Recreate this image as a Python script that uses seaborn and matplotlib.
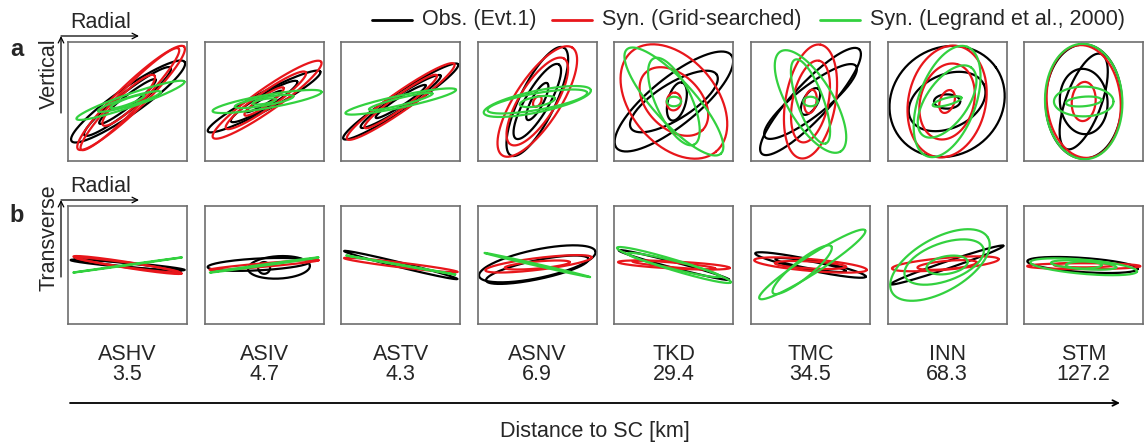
import numpy as np
import pandas as pd
import seaborn as sns
import matplotlib.pyplot as plt

# station names and distance to SC [km]
stations = ["ASHV", "ASIV", "ASTV", "ASNV", "TKD", "TMC", "INN", "STM"]
distances = ["3.5", "4.7", "4.3", "6.9", "29.4", "34.5", "68.3", "127.2"]

series_names = ["Obs. (Evt.1)", "Syn. (Grid-searched)", "Syn. (Legrand et al., 2000)"]
series_colors = ["#000000", "#e8161b", "#33d13f"]

# particle motion loops, normalised to the box half-width
# each loop: (semi-major, semi-minor, tilt deg, x-centre, y-centre)
# a: radial-vertical plane
obs_a = [
    [(1.16, 0.22, 35, 0.01, 0.0), (0.92, 0.15, 38, 0, 0), (0.60, 0.09, 38, 0, 0)],
    [(1.07, 0.15, 28, 0.0, 0.0), (0.65, 0.11, 31, 0, 0), (0.35, 0.05, 30, 0, 0)],
    [(1.15, 0.15, 33, 0, 0), (0.80, 0.11, 33, 0, 0), (0.50, 0.07, 33, 0, 0)],
    [(1.01, 0.30, 64, 0, 0), (0.72, 0.20, 60, 0, 0), (0.35, 0.10, 62, 0, 0)],
    [(1.24, 0.40, 39, 0, 0), (0.85, 0.30, 32, 0, 0), (0.33, 0.15, 75, 0.05, 0)],
    [(1.20, 0.30, 47, 0, 0), (0.97, 0.25, 38, 0, 0), (0.25, 0.12, 60, 0, 0)],
    [(1.00, 0.90, 35, 0, 0), (0.68, 0.45, 25, 0, 0), (0.22, 0.12, 0, 0, 0)],
    [(0.96, 0.64, 90, 0, 0), (0.85, 0.30, 70, 0, 0), (0.55, 0.40, 95, 0, 0)],
]
syn_a = [
    [(1.24, 0.22, 44, 0.06, 0.06), (1.18, 0.18, 46, 0.04, 0.04), (0.60, 0.14, 44, 0.02, 0.02)],
    [(1.11, 0.19, 35, 0.05, 0.03), (0.82, 0.14, 35, 0.03, 0.02), (0.40, 0.08, 35, 0, 0)],
    [(1.10, 0.16, 35, 0, 0), (0.75, 0.11, 36, 0, 0)],
    [(1.08, 0.38, 57, 0, 0), (0.85, 0.30, 58, 0, 0), (0.10, 0.06, 60, 0, 0)],
    [(1.10, 0.72, -50, 0, 0), (0.68, 0.45, -45, 0, 0), (0.15, 0.12, 80, 0, 0)],
    [(0.97, 0.42, 80, 0, 0), (0.70, 0.30, 78, 0, 0), (0.20, 0.10, 80, 0, 0)],
    [(0.95, 0.65, 78, 0, 0), (0.65, 0.45, 75, 0, 0), (0.20, 0.12, 70, 0, 0)],
    [(0.95, 0.62, 95, 0, 0), (0.33, 0.20, 85, 0, 0)],
]
leg_a = [
    [(0.96, 0.11, 19, 0.05, 0.02), (0.55, 0.07, 17, 0.03, 0.0), (0.30, 0.05, 20, 0, 0)],
    [(0.93, 0.11, 10, 0.05, 0.0), (0.50, 0.07, 10, 0, 0), (0.20, 0.04, 10, 0, 0)],
    [(0.95, 0.10, 12, 0, 0), (0.55, 0.06, 14, 0, 0)],
    [(0.92, 0.18, 12, 0, 0), (0.85, 0.14, 10, 0, 0), (0.30, 0.08, 10, 0, 0)],
    [(1.18, 0.35, -48, 0, 0), (0.80, 0.30, -65, 0, 0), (0.12, 0.08, 0, 0, 0)],
    [(0.98, 0.38, -59, 0, 0), (0.75, 0.22, -70, 0, 0), (0.12, 0.08, 0, 0, 0)],
    [(0.98, 0.48, 70, 0, 0), (0.70, 0.35, 55, 0, 0), (0.25, 0.06, 15, 0, 0)],
    [(0.97, 0.65, 92, 0, 0), (0.50, 0.25, 0, 0, 0), (0.30, 0.08, 5, 0, 0)],
]
# b: radial-transverse plane
obs_b = [
    [(0.96, 0.04, -5, 0, 0), (0.90, 0.03, -6, 0, 0)],
    [(0.86, 0.10, 3, -0.09, 0.01), (0.52, 0.19, 3, 0.25, -0.04), (0.10, 0.10, 0, 0.0, -0.05)],
    [(0.98, 0.04, -14, 0, 0)],
    [(1.00, 0.24, 12, 0, 0.02), (0.88, 0.16, 12, 0, -0.08)],
    [(0.96, 0.05, -15, 0, 0)],
    [(0.95, 0.09, -12, 0, 0), (0.60, 0.06, -10, 0, 0)],
    [(1.00, 0.06, 19, 0, 0)],
    [(0.93, 0.12, -4, -0.02, 0)],
]
syn_b = [
    [(0.92, 0.05, -9, 0, 0), (0.88, 0.04, -8, 0, 0)],
    [(0.92, 0.03, 5, 0, 0)],
    [(0.96, 0.04, -7, 0, 0)],
    [(0.90, 0.10, 7, 0.02, 0.02), (0.55, 0.06, 5, 0, 0)],
    [(0.94, 0.06, -3, 0, 0), (0.70, 0.04, -5, 0, 0)],
    [(0.95, 0.10, -5, 0, 0), (0.60, 0.06, -3, 0, 0)],
    [(0.90, 0.10, 5, -0.03, 0.02), (0.50, 0.07, 5, 0, 0)],
    [(0.95, 0.05, 0, 0, -0.02), (0.50, 0.04, 0, 0, 0)],
]
leg_b = [
    [(0.92, 0.005, 8, 0, 0)],
    [(0.92, 0.01, 8, 0, 0)],
    [(0.93, 0.005, -10, 0, 0)],
    [(0.91, 0.015, -13, 0, 0)],
    [(1.00, 0.09, -17, 0, 0), (0.80, 0.07, -14, 0, 0)],
    [(1.06, 0.15, 33, 0.03, 0.01), (0.63, 0.15, 39, -0.14, -0.08)],
    [(0.93, 0.45, 30, -0.12, 0), (0.70, 0.32, 20, -0.05, 0.05), (0.35, 0.15, 10, 0, 0)],
    [(0.90, 0.12, -5, 0, -0.03), (0.55, 0.07, -4, 0, 0), (0.30, 0.06, 0, 0, 0)],
]

sns.set_style("white")
plt.rcParams['font.family'] = ['Liberation Sans', 'DejaVu Sans']

W, H = 1144, 442
fig = plt.figure(figsize=(W / 100, H / 100), dpi=100)


def loops_frame(groups):
    # turn loop parameters into outline points for seaborn
    rows = []
    t = np.linspace(0, 2 * np.pi, 160)
    for name, loops in groups:
        for k, (a, b, ang, cx, cy) in enumerate(loops):
            th = np.deg2rad(ang)
            x = cx + a * np.cos(t) * np.cos(th) - b * np.sin(t) * np.sin(th)
            y = cy + a * np.cos(t) * np.sin(th) + b * np.sin(t) * np.cos(th)
            rows.append(pd.DataFrame({"x": x, "y": y, "series": name,
                                      "loop": f"{name}-{k}"}))
    return pd.concat(rows, ignore_index=True)


box_x0, box_step, box_w = 68, 136.6, 119
rows_y = [(42, 161), (206, 324)]
data_rows = [(obs_a, syn_a, leg_a), (obs_b, syn_b, leg_b)]

for r, (top, bot) in enumerate(rows_y):
    for i in range(len(stations)):
        x0 = box_x0 + box_step * i
        ax = fig.add_axes([x0 / W, 1 - bot / H, box_w / W, (bot - top) / H])
        obs, syn, leg = data_rows[r]
        df = loops_frame([(series_names[0], obs[i]), (series_names[1], syn[i]),
                          (series_names[2], leg[i])])
        sns.lineplot(data=df, x="x", y="y", hue="series", units="loop",
                     estimator=None, sort=False, palette=series_colors,
                     hue_order=series_names, legend=False, lw=1.6, ax=ax)
        ax.set_xlim(-1, 1)
        ax.set_ylim(-1, 1)
        ax.set_xticks([])
        ax.set_yticks([])
        ax.set_xlabel("")
        ax.set_ylabel("")
        for sp in ax.spines.values():
            sp.set_color("#6e6e6e")
            sp.set_linewidth(1.2)

# overlay in pixel coordinates for annotations
ov = fig.add_axes([0, 0, 1, 1], zorder=-1)
ov.set_xlim(0, W)
ov.set_ylim(H, 0)
ov.axis("off")

fs = 15.5
arrow_kw = dict(arrowstyle="->", lw=0.9, color="black", shrinkA=0, shrinkB=0)

# panel labels and component axes
for lab, ly, ay, comp, cy in [("a", 50, 36, "Vertical", 74), ("b", 215, 200, "Transverse", 238)]:
    ov.text(17, ly, lab, fontsize=17, fontweight="bold", ha="center", va="center")
    ov.annotate("", xy=(139, ay), xytext=(61, ay), arrowprops=arrow_kw)
    ov.annotate("", xy=(61, ay), xytext=(61, ay + 77), arrowprops=arrow_kw)
    ov.text(101, ay - 13, "Radial", fontsize=fs, ha="center", va="center")
    ov.text(49, cy, comp, fontsize=fs, rotation=90, ha="center", va="center")

# legend
leg_items = [(372, 412, 422), (552, 592, 602), (820, 860, 870)]
for (l0, l1, tx), name, col in zip(leg_items, series_names, series_colors):
    ov.plot([l0, l1], [20, 20], color=col, lw=2)
    ov.text(tx, 20, name, fontsize=fs, ha="left", va="center")

# station labels
for i, (s, d) in enumerate(zip(stations, distances)):
    cx = box_x0 + box_step * i + box_w / 2
    ov.text(cx, 355, s, fontsize=fs, ha="center", va="center")
    ov.text(cx, 374, d, fontsize=fs, ha="center", va="center")

ov.annotate("", xy=(1120, 403), xytext=(70, 403),
            arrowprops=dict(arrowstyle="->", lw=1.3, color="black", shrinkA=0, shrinkB=0))
ov.text(595, 432, "Distance to SC [km]", fontsize=fs, ha="center", va="center")

fig.savefig("out.png", dpi=100)
